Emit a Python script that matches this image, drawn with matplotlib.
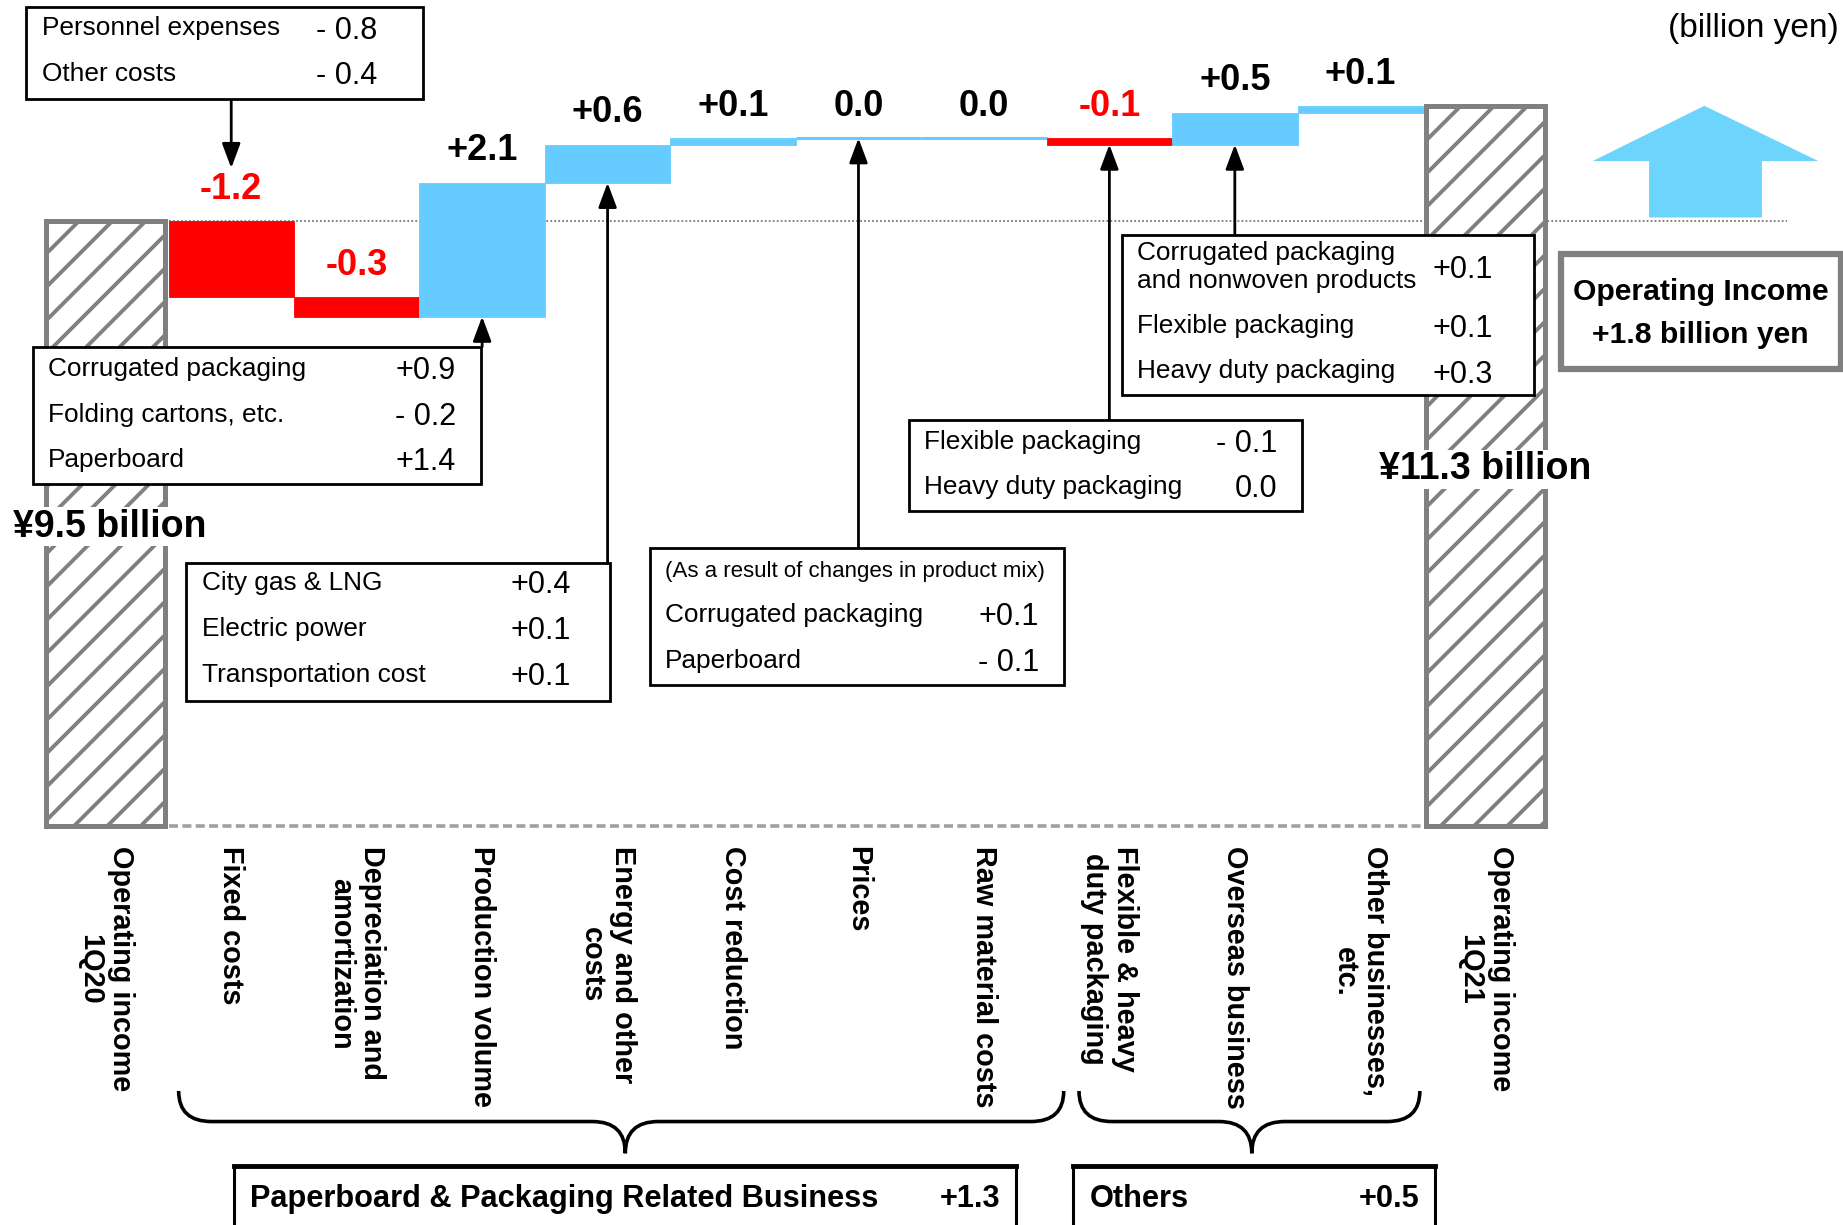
import numpy as np
import matplotlib
matplotlib.use("Agg")
import matplotlib.pyplot as plt
from matplotlib.patches import Rectangle, Polygon, PathPatch
from matplotlib.path import Path
from matplotlib import font_manager as fm
import matplotlib.transforms as mtransforms

# ---------------- data ----------------
categories = ["Operating income\n1Q20", "Fixed costs", "Depreciation and\namortization",
              "Production volume", "Energy and other\ncosts", "Cost reduction", "Prices",
              "Raw material costs", "Flexible & heavy\nduty packaging", "Overseas business",
              "Other businesses,\netc.", "Operating income\n1Q21"]
start_total = 9.5
end_total = 11.3
changes = [-1.2, -0.3, 2.1, 0.6, 0.1, 0.0, 0.0, -0.1, 0.5, 0.1]
change_labels = ["-1.2", "-0.3", "+2.1", "+0.6", "+0.1", "0.0", "0.0", "-0.1", "+0.5", "+0.1"]
total_labels = ["¥9.5 billion", "¥11.3 billion"]
segment_names = ["Paperboard & Packaging Related Business", "Others"]
segment_values = ["+1.3", "+0.5"]
total_change_lines = ["Operating Income", "+1.8 billion yen"]
unit_label = "(billion yen)"

fixed_items = [("Personnel expenses", "- 0.8"), ("Other costs", "- 0.4")]
volume_items = [("Corrugated packaging", "+0.9"), ("Folding cartons, etc.", "- 0.2"), ("Paperboard", "+1.4")]
energy_items = [("City gas & LNG", "+0.4"), ("Electric power", "+0.1"), ("Transportation cost", "+0.1")]
prices_note = "(As a result of changes in product mix)"
prices_items = [("Corrugated packaging", "+0.1"), ("Paperboard", "- 0.1")]
flex_items = [("Flexible packaging", "- 0.1"), ("Heavy duty packaging", "0.0")]
overseas_items = [("Corrugated packaging\nand nonwoven products", "+0.1"),
                  ("Flexible packaging", "+0.1"), ("Heavy duty packaging", "+0.3")]

# ---------------- fonts ----------------
names = {f.name for f in fm.fontManager.ttflist}
REG = "Liberation Sans" if "Liberation Sans" in names else "DejaVu Sans"
if "Liberation Sans Narrow" in names:
    NAR, NS = "Liberation Sans Narrow", 1.0
else:
    NAR, NS = REG, 0.82
plt.rcParams["font.family"] = [REG, "DejaVu Sans"]
plt.rcParams["hatch.linewidth"] = 2.8

BLUE = "#66CCFF"
RED = "#FF0000"
GREY = "#808080"

fig = plt.figure(figsize=(18.43, 12.25), dpi=100)
W0, H0 = 1568.0, 1042.0


def F(x, y):
    return (x / W0, 1 - y / H0)


PXU = 106.73   # px per category (reference display)
PYU = 54.21    # px per billion yen
ax = fig.add_axes([0, 0, 1, 1])
ax.set_xlim(-90 / PXU, (W0 - 90) / PXU)
ax.set_ylim((703 - H0) / PYU, 703 / PYU)
ax.axis("off")
blend = mtransforms.blended_transform_factory(ax.transData, fig.transFigure)

# ---------------- waterfall ----------------
x = np.arange(len(categories))
ch = np.array(changes)
cum = start_total + np.cumsum(ch)
prev = np.concatenate([[start_total], cum[:-1]])
bottoms = np.minimum(prev, cum)
tops = np.maximum(prev, cum)
heights = np.abs(ch)
colors = [RED if c < 0 else BLUE for c in ch]
lws = [2.2 if h == 0 else 0.6 for h in heights]
ax.bar(x[1:-1], heights, bottom=bottoms, width=1.0, color=colors,
       edgecolor=colors, linewidth=lws, zorder=3)

ax.bar([x[0], x[-1]], [start_total, end_total], width=0.95, color="white",
       edgecolor=GREY, hatch="/", linewidth=3.6, zorder=2)

# reference lines
ax.hlines(start_total, 0.5, (1520 - 90) / PXU, colors="#777777",
          linestyles=(0, (1, 1.2)), lw=1.3, zorder=1)
ax.hlines(0, 0.5, len(categories) - 1.5, colors="#A0A0A0",
          linestyles=(0, (2.5, 1.2)), lw=2.6, zorder=1)

for xi, t, lab, c in zip(x[1:-1], tops, change_labels, ch):
    ax.text(xi, t + 0.5, lab, ha="center", va="center", fontsize=26,
            fontweight="bold", color=RED if c < 0 else "black")

# totals labels
fig.text(*F(93, 448), total_labels[0], ha="center", va="center", fontsize=27,
         fontweight="bold", bbox=dict(facecolor="white", edgecolor="none", pad=1))
fig.text(*F(1264, 399), total_labels[1], ha="center", va="center", fontsize=27,
         fontweight="bold", bbox=dict(facecolor="white", edgecolor="none", pad=1))

# category labels (rotated)
for xi, cat in zip(x, categories):
    ax.text(xi, F(0, 720)[1], cat, transform=blend, rotation=270, ha="center",
            va="top", multialignment="center", fontsize=20.8, fontweight="bold",
            linespacing=1.15)


# ---------------- annotation boxes ----------------
def box(x0, y0, x1, y1, lw=2.0, ec="black", z=4):
    fx0, fy1 = F(x0, y1)
    fx1, fy0 = F(x1, y0)
    r = Rectangle((fx0, fy1), fx1 - fx0, fy0 - fy1, transform=fig.transFigure,
                  facecolor="white", edgecolor=ec, linewidth=lw, zorder=z)
    fig.add_artist(r)


def items(lst, lx, vx, ys, dy=3, lsize=23, vsize=22):
    for (lab, val), y in zip(lst, ys):
        fig.text(*F(lx, y + 1), lab, ha="left", va="center", fontsize=lsize * NS,
                 family=[NAR, REG], zorder=5, linespacing=1.2)
        fig.text(*F(vx, y + dy), val, ha="right", va="center", fontsize=vsize,
                 family=[REG], zorder=5)


box(22, 6, 360, 84)
items(fixed_items, 36, 321, [23, 62])

box(28, 295, 409, 412)
items(volume_items, 41, 388, [313, 352, 390])

box(158, 479, 519, 596)
items(energy_items, 172, 486, [495, 534, 573])

box(553, 466, 905, 583)
fig.text(*F(566, 486), prices_note, ha="left", va="center", fontsize=19.5 * NS,
         family=[NAR, REG], zorder=5)
items(prices_items, 566, 884, [522, 561])

box(773, 357, 1108, 435)
items(flex_items, 786, 1087, [375, 413])

box(955, 200, 1305, 336)
items(overseas_items, 967, 1270, [226, 276, 315], dy=4)

# arrows from boxes to bars
arrow_kw = dict(arrowstyle="-|>,head_length=0.75,head_width=0.28", color="black",
                lw=2, shrinkA=0, shrinkB=0, mutation_scale=20)
arrow_specs = [
    (1, tops[0] + 0.83, 84),
    (3, bottoms[2], 295),
    (4, bottoms[3], 479),
    (6, bottoms[5], 466),
    (8, bottoms[7], 357),
    (9, bottoms[8], 200),
]
for xi, tip, tail_px in arrow_specs:
    ax.annotate("", xy=(xi, tip), xycoords="data",
                xytext=(xi, F(0, tail_px)[1]), textcoords=blend,
                arrowprops=arrow_kw, zorder=3)

# ---------------- right side ----------------
fig.text(*F(1564, 24), unit_label, ha="right", va="center", fontsize=24)

arrow_pts = [(1403, 185), (1403, 137), (1355, 137), (1450, 90), (1547, 137),
             (1499, 137), (1499, 185)]
fig.add_artist(Polygon([F(px, py) for px, py in arrow_pts], closed=True,
                       transform=fig.transFigure, facecolor="#6DD5FC",
                       edgecolor="none", zorder=2))

box(1328, 216, 1566, 314, lw=4.5, ec=GREY)
fig.text(*F(1447, 248), total_change_lines[0], ha="center", va="center",
         fontsize=26.5 * NS, fontweight="bold", family=[NAR, REG], zorder=5)
fig.text(*F(1447, 285), total_change_lines[1], ha="center", va="center",
         fontsize=26.5 * NS, fontweight="bold", family=[NAR, REG], zorder=5)


# ---------------- braces ----------------
def brace(x0, x1, xm, ytop=928, ymid=954, ybot=981, r=28):
    verts = [(x0, ytop), (x0, ymid), (x0 + r, ymid), (xm - r, ymid), (xm, ymid), (xm, ybot),
             (xm, ymid), (xm + r, ymid), (x1 - r, ymid), (x1, ymid), (x1, ytop)]
    codes = [Path.MOVETO, Path.CURVE3, Path.CURVE3, Path.LINETO, Path.CURVE3, Path.CURVE3,
             Path.CURVE3, Path.CURVE3, Path.LINETO, Path.CURVE3, Path.CURVE3]
    p = Path([F(a, b) for a, b in verts], codes)
    fig.add_artist(PathPatch(p, transform=fig.transFigure, fill=False, lw=2.6,
                             edgecolor="black", zorder=4))


brace(152, 905, 532)
brace(918, 1208, 1065)

# ---------------- segment boxes ----------------
for (x0, x1), name, val in zip([(199, 864), (913, 1221)], segment_names, segment_values):
    box(x0, 992, x1, 1070, lw=2.2)
    fig.add_artist(plt.Line2D([F(x0, 0)[0], F(x1, 0)[0]], [F(0, 992)[1]] * 2,
                              transform=fig.transFigure, color="black", lw=3.5, zorder=5))
    fig.text(*F(x0 + 14, 1020), name, ha="left", va="center", fontsize=27 * NS,
             fontweight="bold", family=[NAR, REG], zorder=6)
    fig.text(*F(x1 - 13, 1020), val, ha="right", va="center", fontsize=27 * NS,
             fontweight="bold", family=[NAR, REG], zorder=6)

fig.savefig("out.png", dpi=100)
